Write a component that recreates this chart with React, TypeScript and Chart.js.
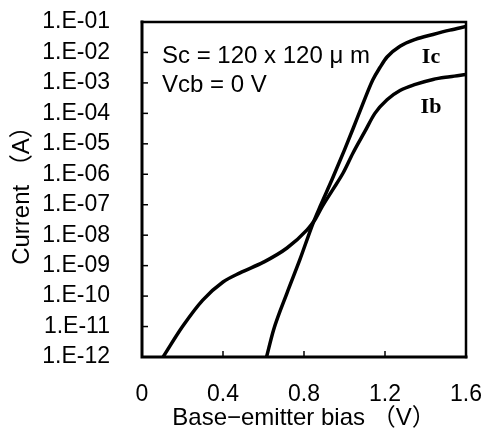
import React, { useEffect, useRef } from "react";
import { Chart, registerables } from "chart.js";

Chart.register(...registerables);

// Base current Ib vs base-emitter bias
const ibBias = [0.104, 0.2, 0.3, 0.4, 0.484, 0.6, 0.716, 0.815, 0.854, 0.889, 0.943, 0.993, 1.042, 1.1, 1.15, 1.21, 1.274, 1.35, 1.437, 1.52, 1.6];
const ibCurrent = [1e-12, 1e-11, 7.4e-11, 2.9e-10, 5.8e-10, 1.3e-9, 3.8e-9, 1.5e-8, 3.2e-8, 8.5e-8, 3.2e-7, 1.1e-6, 5.0e-6, 2.5e-5, 1.0e-4, 2.8e-4, 5.6e-4, 8.9e-4, 1.3e-3, 1.6e-3, 1.9e-3];

// Collector current Ic vs base-emitter bias
const icBias = [0.615, 0.65, 0.716, 0.78, 0.845, 0.88, 0.94, 1.0, 1.045, 1.09, 1.14, 1.175, 1.21, 1.274, 1.35, 1.437, 1.52, 1.6];
const icCurrent = [1e-12, 7.9e-12, 1.26e-10, 1.6e-9, 2.5e-8, 8.9e-8, 7.1e-7, 6.3e-6, 3.5e-5, 2.0e-4, 1.26e-3, 3.2e-3, 7.1e-3, 1.6e-2, 2.7e-2, 3.9e-2, 5.4e-2, 7.1e-2];

const xTickValues = [0, 0.4, 0.8, 1.2, 1.6];
const xTickLabels = ["0", "0.4", "0.8", "1.2", "1.6"];
const yTickValues = [1e-12, 1e-11, 1e-10, 1e-9, 1e-8, 1e-7, 1e-6, 1e-5, 1e-4, 1e-3, 1e-2, 1e-1];
const yTickLabels = ["1.E-12", "1.E-11", "1.E-10", "1.E-09", "1.E-08", "1.E-07", "1.E-06", "1.E-05", "1.E-04", "1.E-03", "1.E-02", "1.E-01"];

const annotationLines = ["Sc = 120 x 120 μ m", "Vcb = 0 V"];
const seriesNames = ["Ic", "Ib"];

const FONT = "'Liberation Sans', Arial, 'Noto Sans CJK JP', sans-serif";

const framePlugin = {
  id: "frameAndTicks",
  afterDatasetsDraw(chart: any) {
    const { ctx, chartArea: ca, scales } = chart;
    ctx.save();
    ctx.strokeStyle = "#000";
    ctx.lineCap = "square";
    ctx.lineWidth = 2.5;
    ctx.beginPath();
    ctx.moveTo(ca.left, ca.top);
    ctx.lineTo(ca.right, ca.top);
    ctx.lineTo(ca.right, ca.bottom);
    ctx.stroke();
    ctx.lineWidth = 3;
    ctx.beginPath();
    ctx.moveTo(ca.left, ca.top);
    ctx.lineTo(ca.left, ca.bottom);
    ctx.lineTo(ca.right, ca.bottom);
    ctx.stroke();
    ctx.lineWidth = 1.5;
    ctx.lineCap = "butt";
    const ys = scales.y;
    ys.ticks.forEach((t: any) => {
      const py = ys.getPixelForValue(t.value);
      ctx.beginPath();
      ctx.moveTo(ca.left, py);
      ctx.lineTo(ca.left + 6, py);
      ctx.stroke();
    });
    const xs = scales.x;
    xs.ticks.forEach((t: any) => {
      const px = xs.getPixelForValue(t.value);
      ctx.beginPath();
      ctx.moveTo(px, ca.bottom);
      ctx.lineTo(px, ca.bottom - 6);
      ctx.stroke();
    });
    ctx.fillStyle = "#000";
    ctx.textBaseline = "alphabetic";
    ctx.textAlign = "left";
    ctx.font = `24px ${FONT}`;
    ctx.fillText(annotationLines[0], ca.left + 20, ca.top + 40.5);
    ctx.fillText(annotationLines[1], ca.left + 20, ca.top + 69.5);
    ctx.textAlign = "center";
    ctx.font = `bold 22px 'Liberation Serif', 'Times New Roman', serif`;
    ctx.fillText(seriesNames[0], ca.left + 289, ca.top + 40.5);
    ctx.fillText(seriesNames[1], ca.left + 289, ca.top + 90.5);
    ctx.restore();
  },
};

export default function App() {
  const ref = useRef<HTMLCanvasElement | null>(null);
  useEffect(() => {
    document.body.style.margin = "0";
    const canvas = ref.current;
    if (!canvas) return;
    const chart = new Chart(canvas, {
      type: "line",
      data: {
        datasets: [
          {
            label: seriesNames[0],
            data: icBias.map((v, i) => ({ x: v, y: icCurrent[i] })),
            borderColor: "#000",
            borderWidth: 3.5,
            pointRadius: 0,
            fill: false,
            cubicInterpolationMode: "monotone",
          },
          {
            label: seriesNames[1],
            data: ibBias.map((v, i) => ({ x: v, y: ibCurrent[i] })),
            borderColor: "#000",
            borderWidth: 3.5,
            pointRadius: 0,
            fill: false,
            cubicInterpolationMode: "monotone",
          },
        ],
      },
      options: {
        responsive: false,
        animation: false,
        layout: { padding: { left: 0, top: 22, right: 21, bottom: 0 } },
        plugins: { legend: { display: false }, tooltip: { enabled: false } },
        scales: {
          x: {
            type: "linear",
            min: 0,
            max: 1.6,
            grid: { display: false },
            border: { display: false },
            afterBuildTicks: (s: any) => {
              s.ticks = xTickValues.map((v) => ({ value: v }));
            },
            afterFit: (s: any) => {
              s.height = 82;
              s.paddingLeft = 0;
              s.paddingRight = 0;
            },
            ticks: {
              color: "#000",
              font: { family: FONT, size: 23 },
              padding: 16,
              maxRotation: 0,
              autoSkip: false,
              callback: (_v: any, i: number) => xTickLabels[i],
            },
            title: {
              display: true,
              text: "Base−emitter bias （V）",
              color: "#000",
              font: { family: FONT, size: 24 },
              padding: { top: 0, bottom: 6 },
            },
          },
          y: {
            type: "logarithmic",
            min: 1e-12,
            max: 1e-1,
            grid: { display: false },
            border: { display: false },
            afterBuildTicks: (s: any) => {
              s.ticks = yTickValues.map((v) => ({ value: v }));
            },
            afterFit: (s: any) => {
              s.width = 142;
              s.paddingTop = 0;
              s.paddingBottom = 0;
            },
            ticks: {
              color: "#000",
              font: { family: FONT, size: 23 },
              padding: 24,
              autoSkip: false,
              callback: (_v: any, i: number) => yTickLabels[i],
            },
            title: {
              display: true,
              text: "Current （A）",
              color: "#000",
              font: { family: FONT, size: 24 },
              padding: { top: 8, bottom: 0 },
            },
          },
        },
      },
      plugins: [framePlugin],
    } as any);
    return () => chart.destroy();
  }, []);
  return (
    <div style={{ position: "absolute", left: 0, top: 0, width: 487, height: 439 }}>
      <canvas ref={ref} width={487} height={439} />
    </div>
  );
}
